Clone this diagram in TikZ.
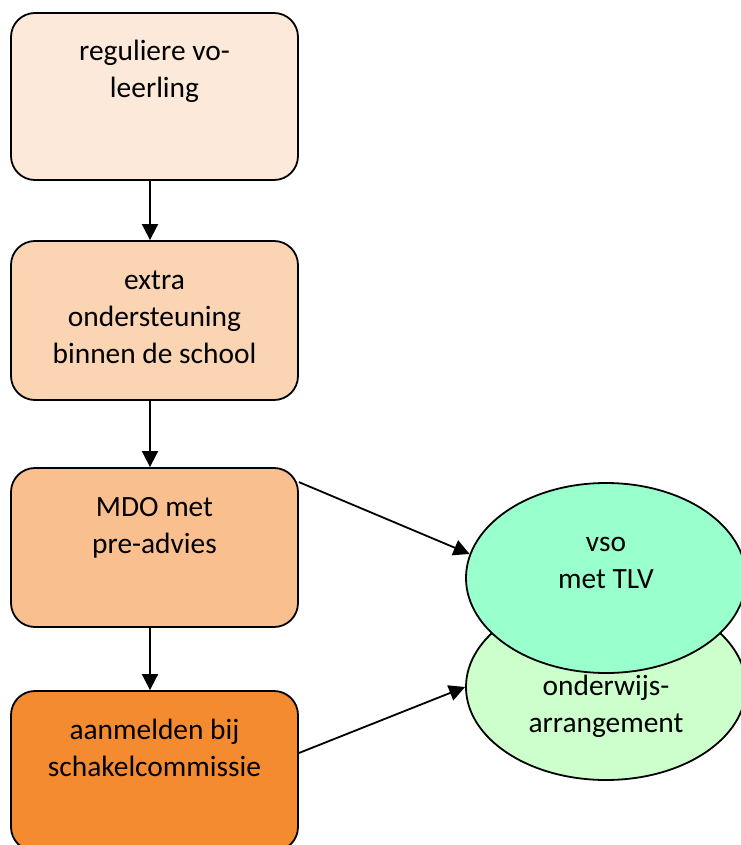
\documentclass[tikz,border=0pt]{standalone}
\usepackage{fontspec}
\setmainfont{Carlito}
\usetikzlibrary{arrows.meta,positioning,shapes.geometric}

\definecolor{peachA}{HTML}{FDE9D9}
\definecolor{peachB}{HTML}{FBD4B4}
\definecolor{peachC}{HTML}{FABF8F}
\definecolor{orangeD}{HTML}{F58B30}
\definecolor{mintA}{HTML}{99FFCC}
\definecolor{mintB}{HTML}{CCFFCC}

\tikzset{
  stapbox/.style={draw, line width=0.9pt, rounded corners=12pt, minimum width=143.5pt, inner sep=0pt},
  uitkomst/.style={draw, ellipse, line width=0.9pt, minimum width=140pt, inner sep=0pt},
  tekst/.style={align=center, anchor=base, inner sep=0pt, font=\fontsize{14.7}{18.5}\selectfont},
  pijl/.style={-{Triangle[length=8pt,width=8pt]}, line width=0.9pt},
}

\begin{document}
\begin{tikzpicture}[x=0.5pt,y=-0.5pt]
    \useasboundingbox (0,0) rectangle (740,845);

    % linker kolom
    \node[stapbox, fill=peachA, minimum height=83.5pt] (leerling) at (154.5,96.5) {};
    \node[stapbox, fill=peachB, minimum height=79.5pt] (extra) at (154.5,320.5) {};
    \node[stapbox, fill=peachC, minimum height=79.5pt] (mdo) at (154.5,547.5) {};
    \node[stapbox, fill=orangeD, minimum height=80pt] (aanmelden) at (154.5,771) {};

    % base = laatste regel
    \node[tekst] at ([yshift=-42.5pt]leerling.north) {reguliere vo-\\leerling};
    \node[tekst] at ([yshift=-61.5pt]extra.north) {extra\\ondersteuning\\binnen de school};
    \node[tekst] at ([yshift=-43pt]mdo.north) {MDO met\\pre-advies};
    \node[tekst] at ([yshift=-43pt]aanmelden.north) {aanmelden bij\\schakelcommissie};

    % uitkomsten
    \node[uitkomst, fill=mintB, minimum height=93pt] (arrangement) at (606,687) {};
    \node[tekst] at ([yshift=-22.5pt]arrangement.center) {onderwijs-\\arrangement};
    \node[uitkomst, fill=mintA, minimum height=95pt] (vso) at (606,578) {};
    \node[tekst] at ([yshift=-5pt]vso.center) {vso\\met TLV};

    % pijlen
    \draw[pijl] ([xshift=-2.25pt]leerling.south) -- ([xshift=-2.25pt]extra.north);
    \draw[pijl] ([xshift=-2.25pt]extra.south) -- ([xshift=-2.25pt]mdo.north);
    \draw[pijl] ([xshift=-2.25pt]mdo.south) -- ([xshift=-2.25pt]aanmelden.north);
    \draw[pijl] ([yshift=-7.5pt]mdo.north east) -- (vso.170);
    \draw[pijl] ([yshift=9pt]aanmelden.east) -- (arrangement.west);
\end{tikzpicture}
\end{document}
